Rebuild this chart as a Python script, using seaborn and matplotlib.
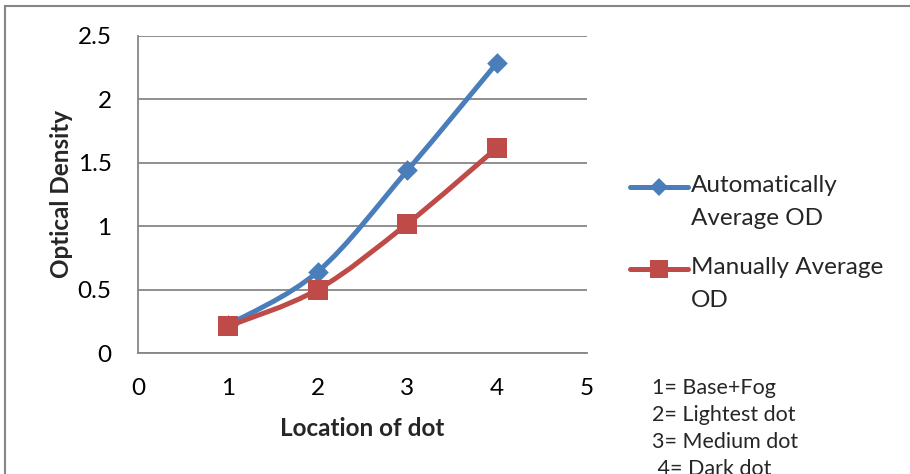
import numpy as np
import pandas as pd
import seaborn as sns
import matplotlib
matplotlib.use("Agg")
import matplotlib.pyplot as plt
from matplotlib.path import Path
from matplotlib.patches import PathPatch, Rectangle
from matplotlib.lines import Line2D
from matplotlib.legend_handler import HandlerLine2D
from matplotlib.ticker import FuncFormatter

# ---- data ----
locations = [1, 2, 3, 4]
auto_od = [0.22, 0.64, 1.44, 2.29]
manual_od = [0.21, 0.50, 1.02, 1.62]
series_names = ["Automatically\nAverage OD", "Manually Average\nOD"]
x_ticks = [0, 1, 2, 3, 4, 5]
y_ticks = [0, 0.5, 1, 1.5, 2, 2.5]
notes = ["1= Base+Fog", "2= Lightest dot", "3= Medium dot", " 4= Dark dot"]
x_label = "Location of dot"
y_label = "Optical Density"

BLUE = "#4A7EBB"
RED = "#BE4B48"
GRID = "#868686"

sns.set_style("white")
plt.rcParams["font.family"] = ["Lato", "DejaVu Sans"]

fig = plt.figure(figsize=(9.10, 4.74), dpi=100)
ax = fig.add_axes([138 / 910, 1 - 353 / 474, (587 - 138) / 910, (353 - 36) / 474])


def smooth_path(xs, ys):
    """Excel-style smoothed line as cubic Bezier segments through the data points."""
    pts = np.column_stack([xs, ys]).astype(float)
    n = len(pts)
    verts = [pts[0]]
    codes = [Path.MOVETO]
    for i in range(n - 1):
        p0 = pts[i - 1] if i > 0 else pts[i]
        p1 = pts[i]
        p2 = pts[i + 1]
        p3 = pts[i + 2] if i + 2 < n else pts[i + 1]
        c1 = p1 + (p2 - p0) / 6.0
        c2 = p2 - (p3 - p1) / 6.0
        verts += [c1, c2, p2]
        codes += [Path.CURVE4] * 3
    return Path(verts, codes)


df = pd.DataFrame({
    "loc": locations * 2,
    "od": auto_od + manual_od,
    "series": [series_names[0]] * len(locations) + [series_names[1]] * len(locations),
})

for name, vals, color in [(series_names[0], auto_od, BLUE), (series_names[1], manual_od, RED)]:
    ax.add_patch(PathPatch(smooth_path(locations, vals), fill=False, edgecolor=color,
                           lw=3.6, capstyle="round", joinstyle="round", zorder=3))

sns.scatterplot(data=df[df.series == series_names[0]], x="loc", y="od", marker="D",
                s=10.5 ** 2, color=BLUE, edgecolor=BLUE, linewidth=0, ax=ax, zorder=4, legend=False)
sns.scatterplot(data=df[df.series == series_names[1]], x="loc", y="od", marker="s",
                s=14 ** 2, color=RED, edgecolor=RED, linewidth=0, ax=ax, zorder=5, legend=False)

ax.set_xlim(0, 5)
ax.set_ylim(0, 2.5)
ax.set_xticks(x_ticks)
ax.set_yticks(y_ticks)
fmt = FuncFormatter(lambda v, p: f"{v:g}")
ax.xaxis.set_major_formatter(fmt)
ax.yaxis.set_major_formatter(fmt)
ax.tick_params(axis="both", which="major", direction="out", length=7, width=1.2,
               color=GRID, labelsize=17.5, labelcolor="black")
ax.tick_params(axis="y", pad=12)
ax.tick_params(axis="x", pad=11)
ax.yaxis.grid(True, color=GRID, lw=1.3)
ax.xaxis.grid(False)
ax.set_axisbelow(True)
for s in ["top", "right"]:
    ax.spines[s].set_visible(False)
for s in ["left", "bottom"]:
    ax.spines[s].set_color(GRID)
    ax.spines[s].set_linewidth(1.3)

ax.set_xlabel(x_label, fontsize=17.5, fontweight="bold", labelpad=13)
ax.set_ylabel(y_label, fontsize=17.5, fontweight="bold", labelpad=3)


class RaisedHandler(HandlerLine2D):
    """Legend handle aligned with the first line of a two-line label."""

    def __init__(self, dy, **kw):
        super().__init__(**kw)
        self.dy = dy

    def create_artists(self, legend, orig_handle, xdescent, ydescent, width, height,
                       fontsize, trans):
        return super().create_artists(legend, orig_handle, xdescent, ydescent - 2 * self.dy,
                                      width, height, fontsize, trans)


handles = [
    Line2D([], [], color=BLUE, lw=3.6, marker="D", markersize=9.5, markeredgewidth=0),
    Line2D([], [], color=RED, lw=3.6, marker="s", markersize=13, markeredgewidth=0),
]
leg = fig.legend(handles, series_names, loc="upper left", bbox_to_anchor=(630 / 910, 1 - 175 / 474),
                 frameon=False, fontsize=17.5, handlelength=2.4, handletextpad=0.12,
                 labelspacing=1.15, borderpad=0, borderaxespad=0,
                 handler_map={Line2D: RaisedHandler(10.5)})
for t in leg.get_texts():
    t.set_linespacing(1.7)

for i, t in enumerate(notes):
    fig.text(652 / 910, 1 - (388 + 27 * i) / 474, t, fontsize=15.5, va="center", ha="left")

fig.add_artist(Rectangle((5 / 910, -0.1), 1.2, 1 - 6 / 474 + 0.1, transform=fig.transFigure,
                         fill=False, edgecolor=GRID, lw=1.5, clip_on=False))

fig.savefig("out.png", dpi=100)
